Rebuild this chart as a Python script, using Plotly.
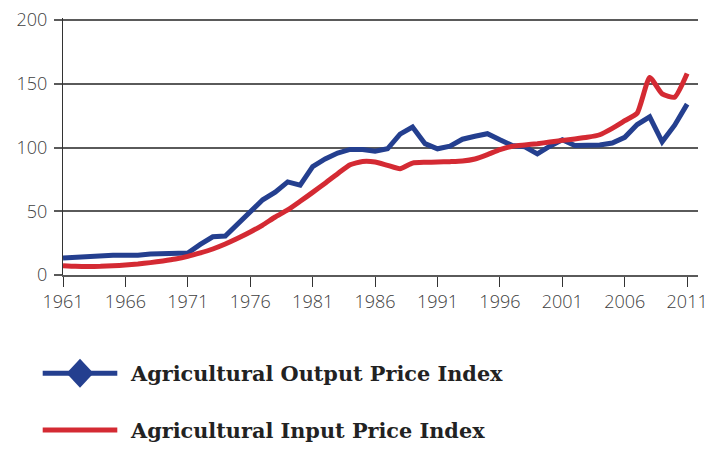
import plotly.graph_objects as go

years = list(range(1961, 2012))
output_index = [13.3, 14, 14.4, 15, 15.5, 15.5, 15.5, 16.5, 16.7, 17,
                17.3, 24, 30, 30.5, 40, 50.5, 59, 65, 73, 70.5,
                85, 91, 95.7, 98.5, 98.5, 97, 99, 110.5, 116, 103,
                99, 101, 106.5, 108.8, 110.8, 106, 101.5, 100.5, 95, 101,
                106, 101.5, 101.4, 102, 103.5, 108, 118, 124, 104.5, 117.5,
                134]
input_index = [7.3, 6.8, 6.7, 6.8, 7.2, 7.8, 8.6, 9.7, 11, 12.5,
               14.6, 17.3, 20.4, 24.3, 28.8, 33.7, 39.2, 45.5, 51, 57.8,
               64.8, 72, 79.5, 86.5, 89, 88.6, 86, 83.4, 87.8, 88.4,
               88.6, 88.9, 89.4, 91, 94.4, 98.3, 101, 102, 103, 104.3,
               105.6, 106.7, 108, 110, 115, 121, 127, 155, 142, 139.5,
               158]
tick_years = list(range(1961, 2012, 5))
y_ticks = [0, 50, 100, 150, 200]
series_names = ["Agricultural Output Price Index", "Agricultural Input Price Index"]

BLUE = "#243f8f"
RED = "#d42a33"
GRID = "#5a5a5a"

W, H = 708, 450
ML, MR, MT, MB = 63, 10, 18, 175
PW, PH = W - ML - MR, H - MT - MB
Y_MAX = PH / 1.275  # keeps 200 gridline just inside the plot area


def px(x):
    return (x - ML) / PW


def py(y):
    return (H - MB - y) / PH


fig = go.Figure()
fig.add_trace(go.Scatter(x=years, y=output_index, mode="lines",
                         line=dict(color=BLUE, width=5), name=series_names[0],
                         showlegend=False))
fig.add_trace(go.Scatter(x=years, y=input_index, mode="lines",
                         line=dict(color=RED, width=5, shape="spline", smoothing=0.5),
                         name=series_names[1], showlegend=False))

tickfont = dict(family="Open Sans, sans-serif", size=18, color="#404040", weight=300)

fig.update_layout(
    template="none",
    width=W, height=H,
    margin=dict(l=ML, r=MR, t=MT, b=MB, autoexpand=False),
    paper_bgcolor="white", plot_bgcolor="white",
    xaxis=dict(range=[1961, 2011.87], tickvals=tick_years, ticks="outside",
               ticklen=10, tickcolor="#333333", tickwidth=1, showgrid=False,
               showline=True, linecolor=GRID, linewidth=1.5, zeroline=False,
               tickfont=tickfont, automargin=False),
    yaxis=dict(range=[0, Y_MAX], tickvals=y_ticks, ticks="outside", ticklen=8,
               tickcolor=GRID, tickwidth=1.5, showgrid=True, gridcolor=GRID,
               gridwidth=1.5, showline=True, linecolor="#333333", linewidth=1,
               zeroline=False, tickfont=tickfont, automargin=False,
               ticklabelstandoff=3),
    showlegend=False,
)

legend_font = dict(family="DejaVu Serif, serif", size=20.8, color="#222222")
for name, color, ycen, diamond in [(series_names[0], BLUE, 373.3, True),
                                   (series_names[1], RED, 430, False)]:
    fig.add_shape(type="line", xref="paper", yref="paper",
                  x0=px(42.7), x1=px(117.3), y0=py(ycen), y1=py(ycen),
                  line=dict(color=color, width=5))
    if diamond:
        fig.add_shape(type="path", xref="paper", yref="paper",
                      xsizemode="pixel", ysizemode="pixel",
                      xanchor=px(80), yanchor=py(ycen),
                      path="M -13.5 0 L 0 14.5 L 13.5 0 L 0 -14.5 Z",
                      fillcolor=color, line=dict(color=color, width=0))
    fig.add_annotation(x=px(128), y=py(ycen), xref="paper", yref="paper",
                       text="<b>" + name + "</b>", showarrow=False,
                       xanchor="left", yanchor="middle", font=legend_font)

fig.write_html("out.html", config={"displayModeBar": False},
               post_script="document.body.style.margin='0';")
